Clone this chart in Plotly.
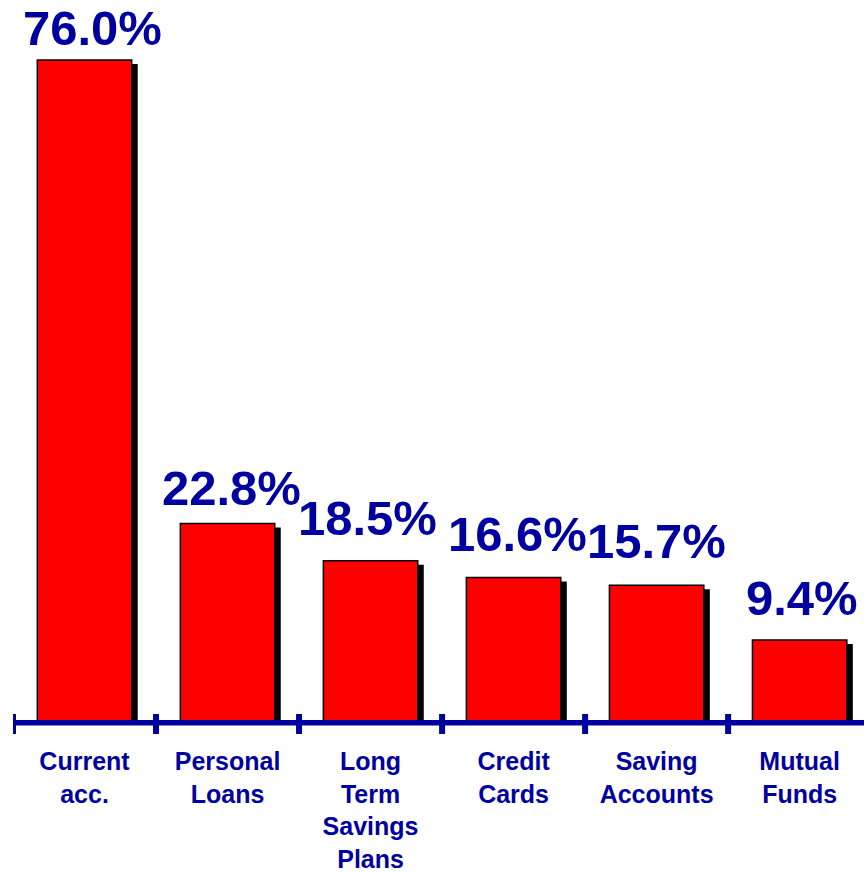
import plotly.graph_objects as go

categories = ["Current<br>acc.", "Personal<br>Loans", "Long<br>Term<br>Savings<br>Plans",
              "Credit<br>Cards", "Saving<br>Accounts", "Mutual<br>Funds"]
values = [76.0, 22.8, 18.5, 16.6, 15.7, 9.4]
value_labels = ["76.0%", "22.8%", "18.5%", "16.6%", "15.7%", "9.4%"]

# label placement tweaks (pixels)
label_dx = [8, 4, -3, 4, 0, 2]
label_gap = [13, 16, 24, 24, 25, 23]

BLUE = "#0000A0"
FONT = "Liberation Sans, Arial, sans-serif"
idx = list(range(len(categories)))

fig = go.Figure()
# shadow
fig.add_trace(go.Bar(x=idx, y=[v - 0.46 for v in values], width=0.66, offset=-0.33 + 0.042,
                     marker=dict(color="black", line=dict(width=0)), hoverinfo="skip"))
# main bars
fig.add_trace(go.Bar(x=idx, y=values, width=0.66, offset=-0.33,
                     marker=dict(color="#FF0000", line=dict(color="black", width=1.5))))

for i, v, t, dx, g in zip(idx, values, value_labels, label_dx, label_gap):
    fig.add_annotation(x=i, y=v, text="<b>%s</b>" % t, showarrow=False, yanchor="bottom",
                       xshift=dx, yshift=g - 10, font=dict(size=49, color=BLUE, family=FONT))

# tick marks at category boundaries, crossing the axis line
for i in idx:
    fig.add_shape(type="line", xref="x", yref="paper", x0=i - 0.5, x1=i - 0.5,
                  y0=-12 / 722, y1=8 / 722, line=dict(color=BLUE, width=6), layer="above")
# axis line
fig.add_shape(type="line", xref="paper", yref="paper", x0=0, x1=1, y0=-0.8 / 722, y1=-0.8 / 722,
              line=dict(color=BLUE, width=5.5), layer="above")

fig.update_layout(
    width=864, height=873, margin=dict(l=13, r=0, t=0, b=151),
    paper_bgcolor="white", plot_bgcolor="white", showlegend=False, barmode="overlay",
    xaxis=dict(range=[-0.5, 5.45], tickmode="array", tickvals=idx,
               ticktext=["<b>%s</b>" % c for c in categories], showgrid=False, zeroline=False,
               showline=False, ticks="", ticklabelstandoff=22,
               tickfont=dict(size=25, color=BLUE, family=FONT)),
    yaxis=dict(range=[0, 722 / 8.711], visible=False, showgrid=False, zeroline=False),
)

fig.write_html("out.html")
